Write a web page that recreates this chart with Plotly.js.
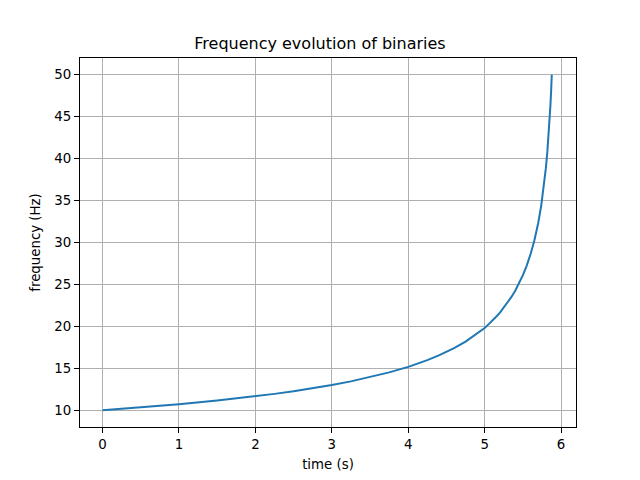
<!DOCTYPE html>
<html>
<head>
<meta charset="utf-8">
<script src="https://cdn.plot.ly/plotly-3.0.1.min.js"></script>
<style>html,body{margin:0;padding:0;background:#fff;}#chart{width:640px;height:480px;}</style>
</head>
<body>
<div id="chart"></div>
<script>
const timeS = [0, 0.5, 1, 1.5, 1.75, 2, 2.25, 2.5, 2.75, 3, 3.25, 3.5, 3.75, 4, 4.1, 4.25, 4.4, 4.5, 4.6, 4.75, 4.9, 5, 5.05, 5.1, 5.15, 5.2, 5.25, 5.3, 5.35, 5.4, 5.45, 5.5, 5.55, 5.6, 5.65, 5.7, 5.74, 5.77, 5.8, 5.82, 5.84, 5.86, 5.87, 5.878];
const freqHz = [10, 10.33, 10.71, 11.15, 11.39, 11.66, 11.95, 12.26, 12.61, 13.0, 13.44, 13.94, 14.51, 15.17, 15.48, 15.97, 16.53, 16.95, 17.40, 18.18, 19.11, 19.8, 20.24, 20.65, 21.14, 21.63, 22.21, 22.8, 23.51, 24.25, 25.14, 26.1, 27.25, 28.6, 30.25, 32.3, 34.4, 36.35, 38.8, 40.8, 43.2, 46.3, 48.15, 50];
const xTicks = [0, 1, 2, 3, 4, 5, 6];
const yTicks = [10, 15, 20, 25, 30, 35, 40, 45, 50];

const font = {family: 'DejaVu Sans, sans-serif', size: 13.33, color: '#000'};
Plotly.newPlot('chart', [{
  x: timeS, y: freqHz, type: 'scatter', mode: 'lines',
  line: {color: '#1f77b4', width: 2}
}], {
  width: 640, height: 480,
  margin: {l: 80, r: 64, t: 58, b: 53},
  paper_bgcolor: '#fff', plot_bgcolor: '#fff',
  font: font,
  showlegend: false,
  title: {text: 'Frequency evolution of binaries', font: {family: 'DejaVu Sans, sans-serif', size: 16, color: '#000'}, x: 0.5, xanchor: 'center', y: 1 - 43/480, yanchor: 'middle'},
  xaxis: {
    range: [-0.295, 6.195], tickvals: xTicks, ticktext: xTicks.map(String),
    showgrid: true, gridcolor: '#b0b0b0', gridwidth: 1, zeroline: false,
    showline: true, linecolor: '#000', linewidth: 1, mirror: true,
    ticks: 'outside', ticklen: 5, tickcolor: '#000', tickfont: font,
    title: {text: 'time (s)', font: font, standoff: 8}
  },
  yaxis: {
    range: [8, 52], tickvals: yTicks, ticktext: yTicks.map(String),
    showgrid: true, gridcolor: '#b0b0b0', gridwidth: 1, zeroline: false,
    showline: true, linecolor: '#000', linewidth: 1, mirror: true,
    ticks: 'outside', ticklen: 5, tickcolor: '#000', tickfont: font,
    title: {text: 'frequency (Hz)', font: font, standoff: 10}
  }
}, {staticPlot: true});
</script>
</body>
</html>
